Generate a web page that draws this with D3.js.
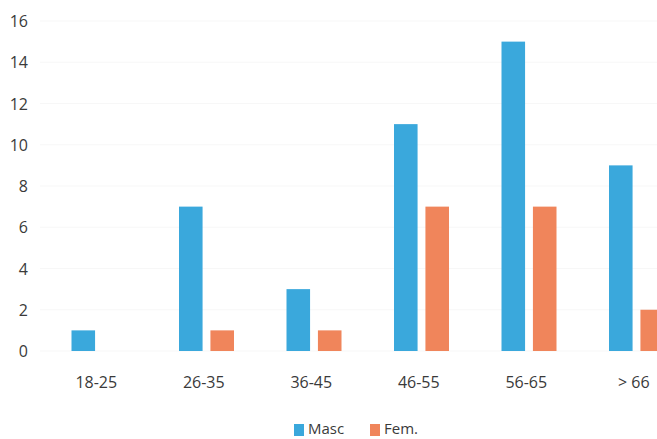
<!DOCTYPE html>
<html><head><meta charset="utf-8">
<script src="https://cdn.jsdelivr.net/npm/d3@7"></script>
<style>body{margin:0;background:#fff}svg{display:block}text{font-family:"Open Sans",sans-serif;fill:#3a3a3a}</style>
</head><body><svg id="c" width="657" height="439"></svg>
<script>
const categories = ["18-25","26-35","36-45","46-55","56-65","> 66"];
const masc = [1,7,3,11,15,9];
const fem = [0,1,1,7,7,2];
const seriesNames = ["Masc","Fem."];
const colors = ["#3aa8dc","#f0855b"];
const yTicks = [0,2,4,6,8,10,12,14,16];

const svg = d3.select("#c");
const y = d3.scaleLinear().domain([0,16]).range([351,21]);
const x = d3.scaleBand().domain(categories).range([42.5,687.5]).paddingInner(0).paddingOuter(0);
const xs = d3.scaleBand().domain(seriesNames).range([29,84]).paddingInner(0.25);

svg.append("g").selectAll("line").data(yTicks).join("line")
  .attr("x1",40).attr("x2",657).attr("y1",d=>y(d)).attr("y2",d=>y(d))
  .attr("stroke","#f7f7f7").attr("stroke-width",1);

const fontSize = 16;
const yAxis = svg.append("g").attr("transform","translate(28,0)")
  .call(d3.axisLeft(y).tickValues(yTicks).tickSize(0).tickPadding(0));
yAxis.select(".domain").remove();
yAxis.selectAll("text").attr("font-size",fontSize).attr("dy","0.35em").style("fill","#3a3a3a")
  .attr("font-family","'Open Sans',sans-serif");

const data = [masc, fem];
const g = svg.append("g");
seriesNames.forEach((s,si)=>{
  g.append("g").selectAll("rect").data(categories).join("rect")
    .attr("x",c=>x(c)+xs(s)).attr("width",xs.bandwidth())
    .attr("y",(c,i)=>y(data[si][i])).attr("height",(c,i)=>y(0)-y(data[si][i]))
    .attr("fill",colors[si]);
});

const xAxis = svg.append("g").attr("transform","translate(0,382)")
  .call(d3.axisBottom(x).tickSize(0).tickPadding(0));
xAxis.select(".domain").remove();
xAxis.selectAll("text").attr("font-size",fontSize).attr("dy","0.35em").style("fill","#3a3a3a")
  .attr("font-family","'Open Sans',sans-serif");

const leg = svg.append("g");
const lx = [294,370];
seriesNames.forEach((s,i)=>{
  leg.append("rect").attr("x",lx[i]).attr("y",424).attr("width",10).attr("height",12).attr("fill",colors[i]);
  leg.append("text").attr("x",lx[i]+14).attr("y",429).attr("dy","0.35em").attr("font-size",15).text(s);
});
</script></body></html>
